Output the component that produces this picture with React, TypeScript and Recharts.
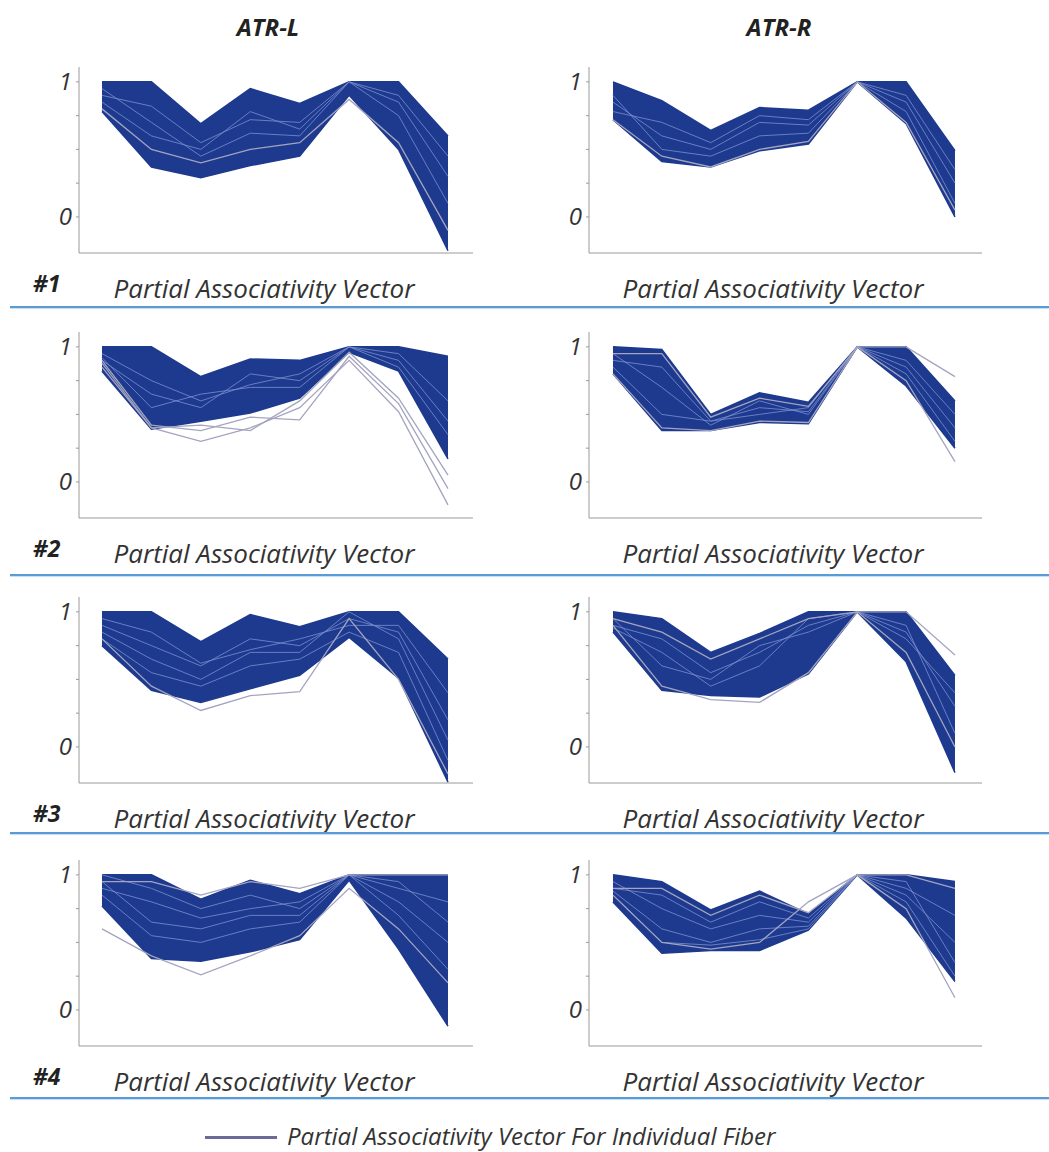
import { Area, ComposedChart, Line, XAxis, YAxis } from "recharts";

// vector components along x, and y ticks
const positions = [1, 2, 3, 4, 5, 6, 7, 8];
const yTicks = [0, 0.25, 0.5, 0.75, 1];

// band edges (hi/lo) of each bundle, plus a few single fibers
const atrL1Hi = [1, 1, 0.69, 0.95, 0.84, 1, 1, 0.6];
const atrL1Lo = [0.78, 0.37, 0.29, 0.38, 0.45, 0.9, 0.5, -0.25];
const atrL1Streaks = [
  [0.9, 0.82, 0.55, 0.72, 0.7, 1, 0.85, 0.3],
  [0.95, 0.7, 0.45, 0.62, 0.6, 1, 0.75, 0.1],
  [0.85, 0.6, 0.5, 0.78, 0.65, 1, 0.9, 0.45],
];
const atrL1Outliers = [[0.8, 0.5, 0.4, 0.5, 0.55, 0.87, 0.55, -0.1]];

const atrR1Hi = [1, 0.86, 0.64, 0.81, 0.79, 1, 1, 0.49];
const atrR1Lo = [0.72, 0.41, 0.37, 0.49, 0.54, 1, 0.69, 0.0];
const atrR1Streaks = [
  [0.85, 0.6, 0.5, 0.7, 0.68, 1, 0.85, 0.25],
  [0.9, 0.5, 0.45, 0.6, 0.62, 1, 0.9, 0.35],
  [0.78, 0.7, 0.55, 0.75, 0.72, 1, 0.78, 0.1],
];
const atrR1Outliers = [[0.72, 0.45, 0.37, 0.5, 0.56, 1, 0.7, 0.05]];

const atrL2Hi = [1, 1, 0.78, 0.91, 0.9, 1, 1, 0.93];
const atrL2Lo = [0.82, 0.39, 0.45, 0.51, 0.62, 0.96, 0.82, 0.17];
const atrL2Streaks = [
  [0.95, 0.75, 0.6, 0.72, 0.8, 1, 0.9, 0.45],
  [0.9, 0.65, 0.55, 0.8, 0.75, 1, 0.95, 0.6],
  [0.92, 0.55, 0.65, 0.7, 0.7, 1, 0.85, 0.35],
];
const atrL2Outliers = [
  [0.85, 0.4, 0.3, 0.4, 0.55, 0.9, 0.52, -0.17],
  [0.9, 0.42, 0.38, 0.48, 0.46, 0.93, 0.58, -0.05],
  [0.88, 0.4, 0.42, 0.38, 0.6, 0.96, 0.62, 0.05],
];

const atrR2Hi = [1, 0.98, 0.5, 0.66, 0.59, 1, 1, 0.6];
const atrR2Lo = [0.8, 0.38, 0.38, 0.44, 0.43, 1, 0.71, 0.25];
const atrR2Streaks = [
  [0.9, 0.85, 0.45, 0.55, 0.52, 1, 0.85, 0.4],
  [0.95, 0.7, 0.42, 0.6, 0.5, 1, 0.9, 0.5],
  [0.85, 0.5, 0.45, 0.5, 0.55, 1, 0.8, 0.3],
];
const atrR2Outliers = [
  [0.8, 0.4, 0.38, 0.45, 0.44, 1, 0.75, 0.15],
  [0.95, 0.95, 0.48, 0.62, 0.56, 1, 1, 0.78],
];

const atrL3Hi = [1, 1, 0.78, 0.98, 0.89, 1, 1, 0.65];
const atrL3Lo = [0.75, 0.42, 0.33, 0.43, 0.53, 0.81, 0.51, -0.26];
const atrL3Streaks = [
  [0.9, 0.75, 0.6, 0.8, 0.75, 0.95, 0.85, 0.2],
  [0.85, 0.65, 0.5, 0.7, 0.7, 1, 0.8, 0.05],
  [0.95, 0.85, 0.62, 0.72, 0.8, 0.9, 0.9, 0.4],
  [0.8, 0.55, 0.45, 0.6, 0.65, 0.85, 0.7, -0.1],
];
const atrL3Outliers = [[0.8, 0.45, 0.27, 0.38, 0.41, 0.95, 0.5, -0.2]];

const atrR3Hi = [1, 0.95, 0.7, 0.84, 1, 1, 1, 0.53];
const atrR3Lo = [0.85, 0.42, 0.38, 0.37, 0.54, 1, 0.63, -0.19];
const atrR3Streaks = [
  [0.9, 0.8, 0.55, 0.7, 0.9, 1, 0.85, 0.3],
  [0.95, 0.6, 0.5, 0.75, 0.85, 1, 0.9, 0.1],
  [0.88, 0.7, 0.45, 0.6, 0.95, 1, 0.8, 0.4],
];
const atrR3Outliers = [
  [0.9, 0.45, 0.35, 0.33, 0.55, 1, 0.7, 0.0],
  [0.95, 0.85, 0.65, 0.8, 0.95, 1, 1, 0.68],
];

const atrL4Hi = [1, 1, 0.82, 0.96, 0.86, 1, 1, 1];
const atrL4Lo = [0.77, 0.38, 0.36, 0.43, 0.52, 0.96, 0.45, -0.12];
const atrL4Streaks = [
  [0.9, 0.8, 0.68, 0.75, 0.8, 1, 0.8, 0.5],
  [0.95, 0.65, 0.6, 0.7, 0.7, 1, 0.9, 0.8],
  [0.85, 0.55, 0.5, 0.6, 0.65, 1, 0.7, 0.3],
  [1, 0.9, 0.75, 0.85, 0.75, 1, 0.95, 0.65],
];
const atrL4Outliers = [
  [0.6, 0.4, 0.26, 0.4, 0.55, 0.9, 0.6, 0.2],
  [0.95, 0.95, 0.85, 0.95, 0.9, 1, 1, 1],
];

const atrR4Hi = [1, 0.95, 0.74, 0.88, 0.71, 1, 1, 0.95];
const atrR4Lo = [0.8, 0.42, 0.44, 0.44, 0.59, 1, 0.68, 0.21];
const atrR4Streaks = [
  [0.9, 0.85, 0.65, 0.8, 0.68, 1, 0.9, 0.7],
  [0.95, 0.75, 0.6, 0.7, 0.65, 1, 0.85, 0.5],
  [0.88, 0.6, 0.5, 0.6, 0.62, 1, 0.95, 0.35],
  [0.85, 0.5, 0.48, 0.52, 0.6, 1, 0.8, 0.25],
];
const atrR4Outliers = [
  [0.85, 0.5, 0.45, 0.5, 0.8, 1, 0.75, 0.09],
  [0.9, 0.9, 0.7, 0.85, 0.72, 1, 1, 0.9],
];

const BAND = "#1d3a8f";
const STREAK = "#7c8fd0";
const OUTLIER = "#a4a4c0";
const AXIS = "#9a9a9a";
const TEXT = "#333";

// top of each plot area, and of each blue divider
const rowTops = [67, 332, 597, 860];
const sepTops = [306, 574, 832, 1097];
const PAD = 12;

const columns = [
  { left: 39, width: 434, domain: [0.535, 8.506], labelX: 264 },
  { left: 549, width: 433, domain: [0.509, 8.553], labelX: 773 },
];

const panels = [
  { col: 0, row: 0, hi: atrL1Hi, lo: atrL1Lo, streaks: atrL1Streaks, outliers: atrL1Outliers },
  { col: 1, row: 0, hi: atrR1Hi, lo: atrR1Lo, streaks: atrR1Streaks, outliers: atrR1Outliers },
  { col: 0, row: 1, hi: atrL2Hi, lo: atrL2Lo, streaks: atrL2Streaks, outliers: atrL2Outliers },
  { col: 1, row: 1, hi: atrR2Hi, lo: atrR2Lo, streaks: atrR2Streaks, outliers: atrR2Outliers },
  { col: 0, row: 2, hi: atrL3Hi, lo: atrL3Lo, streaks: atrL3Streaks, outliers: atrL3Outliers },
  { col: 1, row: 2, hi: atrR3Hi, lo: atrR3Lo, streaks: atrR3Streaks, outliers: atrR3Outliers },
  { col: 0, row: 3, hi: atrL4Hi, lo: atrL4Lo, streaks: atrL4Streaks, outliers: atrL4Outliers },
  { col: 1, row: 3, hi: atrR4Hi, lo: atrR4Lo, streaks: atrR4Streaks, outliers: atrR4Outliers },
];

type PanelProps = (typeof panels)[number];

function FiberPanel({ col, row, hi, lo, streaks, outliers }: PanelProps) {
  const c = columns[col];
  const data = positions.map((x, i) => {
    const point: Record<string, unknown> = { x, band: [lo[i], hi[i]] };
    streaks.forEach((s, k) => (point[`s${k}`] = s[i]));
    outliers.forEach((o, k) => (point[`o${k}`] = o[i]));
    return point;
  });

  return (
    <div style={{ position: "absolute", left: c.left, top: rowTops[row] - PAD }}>
      <ComposedChart width={c.width} height={192 + PAD} data={data} margin={{ top: PAD, right: 0, bottom: 0, left: 0 }}>
        <XAxis
          type="number"
          dataKey="x"
          domain={c.domain}
          ticks={positions}
          tick={false}
          tickSize={2}
          height={6}
          stroke={AXIS}
          allowDataOverflow
        />
        <YAxis
          type="number"
          domain={[-0.267, 1.11]}
          ticks={yTicks}
          width={40}
          tickSize={3}
          tickMargin={4}
          stroke={AXIS}
          tickFormatter={(v: number) => (v === 0 || v === 1 ? String(v) : "")}
          tick={{ fontSize: 24, fontStyle: "italic", fill: TEXT, fontFamily: "Open Sans" }}
          allowDataOverflow
        />
        <Area
          dataKey="band"
          type="linear"
          fill={BAND}
          fillOpacity={1}
          stroke={BAND}
          strokeWidth={1.5}
          isAnimationActive={false}
        />
        {streaks.map((_, k) => (
          <Line
            key={`s${k}`}
            dataKey={`s${k}`}
            type="linear"
            stroke={STREAK}
            strokeWidth={1}
            strokeOpacity={0.8}
            dot={false}
            isAnimationActive={false}
          />
        ))}
        {outliers.map((_, k) => (
          <Line
            key={`o${k}`}
            dataKey={`o${k}`}
            type="linear"
            stroke={OUTLIER}
            strokeWidth={1.3}
            dot={false}
            isAnimationActive={false}
          />
        ))}
      </ComposedChart>
    </div>
  );
}

const textBase = {
  position: "absolute" as const,
  fontFamily: "Open Sans",
  fontStyle: "italic",
  color: TEXT,
  whiteSpace: "nowrap" as const,
  lineHeight: "36px",
  height: 36,
};

export default function App() {
  return (
    <div style={{ position: "absolute", left: 0, top: 0, width: 1049, height: 1152, background: "#fff" }}>
      <div style={{ ...textBase, left: 168, width: 200, top: 9, textAlign: "center", fontWeight: 700, fontSize: 24, color: "#222" }}>
        ATR-L
      </div>
      <div style={{ ...textBase, left: 679, width: 200, top: 9, textAlign: "center", fontWeight: 700, fontSize: 24, color: "#222" }}>
        ATR-R
      </div>

      {panels.map((p) => (
        <FiberPanel key={`${p.col}-${p.row}`} {...p} />
      ))}

      {rowTops.map((top, r) => (
        <div key={`row${r}`}>
          <div style={{ ...textBase, left: 33, top: top + 198, fontWeight: 700, fontSize: 23, color: "#222" }}>
            #{r + 1}
          </div>
          {columns.map((c, k) => (
            <div
              key={k}
              style={{ ...textBase, left: c.labelX - 250, width: 500, top: top + 203, textAlign: "center", fontSize: 26 }}
            >
              Partial Associativity Vector
            </div>
          ))}
          <div
            style={{
              position: "absolute",
              left: 10,
              right: 0,
              top: sepTops[r],
              height: 2,
              background: "#5b9bd5",
              boxShadow: "0 1px 1px #c4ddf1",
            }}
          />
        </div>
      ))}

      <div style={{ position: "absolute", left: 205, top: 1136, width: 72, height: 3, background: "#6b6b9a" }} />
      <div style={{ ...textBase, left: 287, top: 1122, height: 28, lineHeight: "28px", fontSize: 24 }}>
        Partial Associativity Vector For Individual Fiber
      </div>
    </div>
  );
}
